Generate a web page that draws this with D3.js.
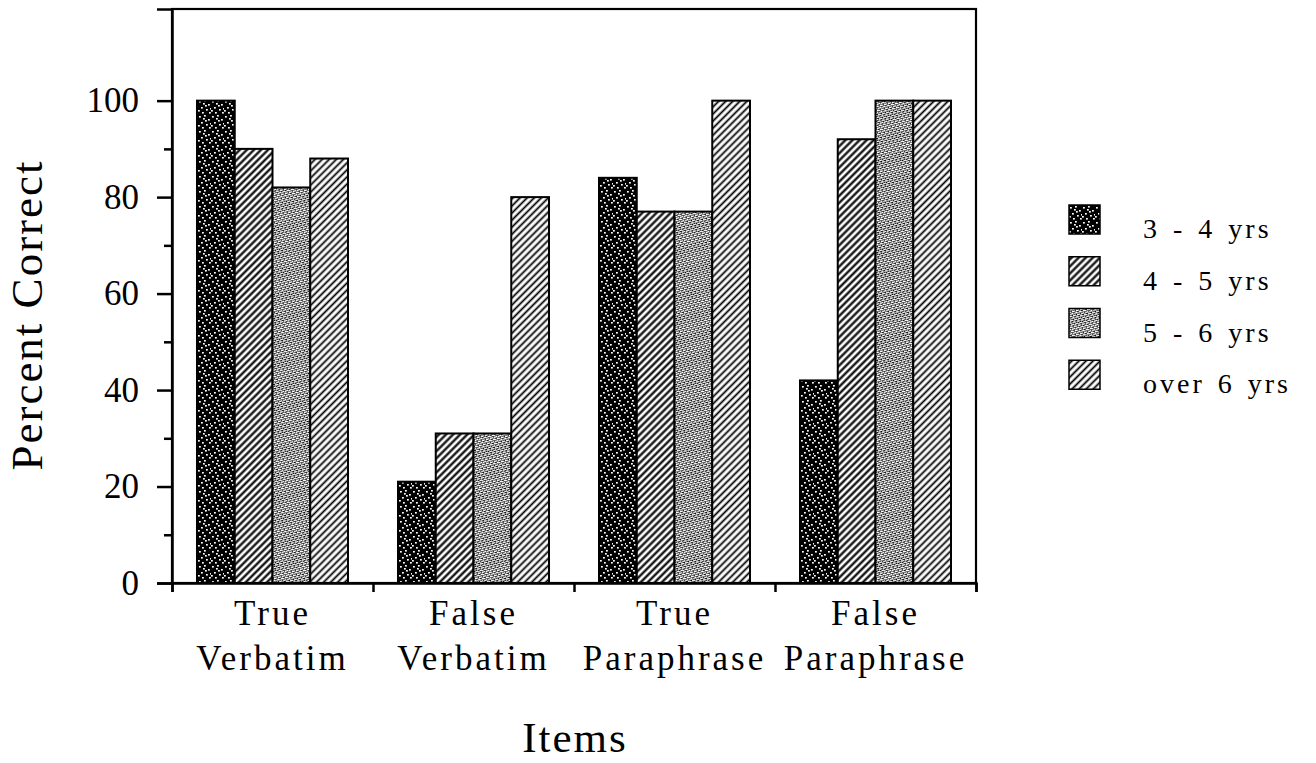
<!DOCTYPE html>
<html>
<head>
<meta charset="utf-8">
<script src="https://cdn.jsdelivr.net/npm/d3@7/dist/d3.min.js"></script>
<style>
  body { margin: 0; background: #fff; }
  svg { display: block; font-family: "Liberation Serif", "DejaVu Serif", serif; }
</style>
</head>
<body>
<svg width="1316" height="763"></svg>
<script>
var items = [["True", "Verbatim"], ["False", "Verbatim"], ["True", "Paraphrase"], ["False", "Paraphrase"]];
var ages = ["3 - 4 yrs", "4 - 5 yrs", "5 - 6 yrs", "over 6 yrs"];
var age34 = [100, 21, 84, 42];
var age45 = [90, 31, 77, 92];
var age56 = [82, 31, 77, 100];
var over6 = [88, 80, 100, 100];
var majorTicks = [0, 20, 40, 60, 80, 100];
var minorTicks = [10, 30, 50, 70, 90];

var series = [age34, age45, age56, over6];
var fills = ["url(#speckle)", "url(#hatch)", "url(#stipple)", "url(#hatch2)"];

var margin = { top: 9, left: 172 };
var width = 976 - 172;
var height = 583 - 9;

var svg = d3.select("svg");

// fill textures
var defs = svg.append("defs");
var sp = defs.append("pattern").attr("id", "speckle").attr("patternUnits", "userSpaceOnUse")
    .attr("width", 13).attr("height", 15);
sp.append("rect").attr("width", 13).attr("height", 15).attr("fill", "#000");
[[1, 2], [6, 1], [10, 5], [3, 8], [8, 10], [11, 13], [4, 13], [7, 6], [0, 11], [5, 4], [12, 9]].forEach(function (p) {
    sp.append("rect").attr("x", p[0]).attr("y", p[1]).attr("width", 1.8).attr("height", 1.6).attr("fill", "#fff");
});

function hatch(id, gap, w) {
    var h = defs.append("pattern").attr("id", id).attr("patternUnits", "userSpaceOnUse")
        .attr("width", gap).attr("height", gap).attr("patternTransform", "rotate(45)");
    h.append("rect").attr("width", gap).attr("height", gap).attr("fill", "#fff");
    h.append("line").attr("x1", gap / 2).attr("x2", gap / 2).attr("y1", 0).attr("y2", gap)
        .attr("stroke", "#000").attr("stroke-width", w);
}
hatch("hatch", 5, 2.2);
hatch("hatch2", 5, 1.8);

var st = defs.append("pattern").attr("id", "stipple").attr("patternUnits", "userSpaceOnUse")
    .attr("width", 3).attr("height", 3).attr("patternTransform", "rotate(30)");
st.append("rect").attr("width", 3).attr("height", 3).attr("fill", "#fff");
[[0, 0], [2, 1], [1, 2], [0, 1]].forEach(function (p) {
    st.append("rect").attr("x", p[0]).attr("y", p[1]).attr("width", 1).attr("height", 1).attr("fill", "#111");
});

var g = svg.append("g").attr("transform", "translate(" + margin.left + "," + margin.top + ")");

var y = d3.scaleLinear().domain([0, 119]).range([height, 0]);
var x0 = d3.scaleBand().domain(d3.range(items.length)).range([0, width]);
var x1 = d3.scaleBand().domain(d3.range(ages.length)).range([25, 176]);
var edges = d3.scaleLinear().domain([0, items.length]).range([0, width]);

// bars
var groups = g.selectAll(".grp").data(d3.range(items.length)).enter().append("g")
    .attr("class", "grp")
    .attr("transform", function (i) { return "translate(" + x0(i) + ",0)"; });
groups.selectAll("rect")
    .data(function (i) { return series.map(function (s, k) { return { k: k, v: s[i] }; }); })
    .enter().append("rect")
    .attr("x", function (d) { return x1(d.k); })
    .attr("y", function (d) { return y(d.v); })
    .attr("width", x1.bandwidth())
    .attr("height", function (d) { return height - y(d.v); })
    .attr("fill", function (d) { return fills[d.k]; })
    .attr("stroke", "#000")
    .attr("stroke-width", 2);

// frame
g.append("rect").attr("width", width).attr("height", height)
    .attr("fill", "none").attr("stroke", "#000").attr("stroke-width", 2.2);

// y axis
var yAxis = g.append("g").attr("class", "axis axis--y")
    .call(d3.axisLeft(y).tickValues(majorTicks).tickSize(15).tickPadding(18));
yAxis.select(".domain").attr("stroke-width", 2.5);
yAxis.selectAll(".tick line").attr("stroke-width", 2.5);
yAxis.selectAll("text").attr("font-size", 35).attr("font-family", "Liberation Serif").attr("fill", "#000");
g.append("g").call(d3.axisLeft(y).tickValues(minorTicks).tickSize(8).tickFormat(""))
    .call(function (a) { a.select(".domain").remove(); a.selectAll("line").attr("stroke-width", 2.5); });

// x axis
var xAxis = g.append("g").attr("class", "axis axis--x")
    .attr("transform", "translate(0," + height + ")")
    .call(d3.axisBottom(edges).tickValues(d3.range(items.length + 1)).tickSize(9).tickFormat(""));
xAxis.select(".domain").attr("stroke-width", 2.5);
xAxis.selectAll(".tick line").attr("stroke-width", 2.5);

var labels = g.selectAll(".cat").data(items).enter().append("text")
    .attr("class", "cat")
    .attr("text-anchor", "middle")
    .attr("font-size", 35)
    .attr("letter-spacing", 3)
    .attr("transform", function (d, i) { return "translate(" + (x0(i) + x0.bandwidth() / 2) + "," + (height + 42) + ")"; });
labels.append("tspan").attr("x", 0).attr("y", 0).text(function (d) { return d[0]; });
labels.append("tspan").attr("x", 0).attr("y", 45).text(function (d) { return d[1]; });

// axis titles
svg.append("text")
    .attr("transform", "translate(42,315) rotate(-90)")
    .attr("text-anchor", "middle")
    .attr("font-size", 45)
    .attr("letter-spacing", 2)
    .text("Percent Correct");
svg.append("text")
    .attr("x", 575).attr("y", 752)
    .attr("text-anchor", "middle")
    .attr("font-size", 43)
    .attr("letter-spacing", 2)
    .text("Items");

// legend
var ly = d3.scaleBand().domain(d3.range(ages.length)).range([205, 412]);
var legend = svg.selectAll(".legend").data(ages).enter().append("g")
    .attr("class", "legend")
    .attr("transform", function (d, i) { return "translate(1069," + ly(i) + ")"; });
legend.append("rect")
    .attr("width", 31).attr("height", 29)
    .attr("fill", function (d, i) { return fills[i]; })
    .attr("stroke", "#000").attr("stroke-width", 1.5);
legend.append("text")
    .attr("x", 74).attr("y", 33)
    .attr("font-size", 28)
    .attr("letter-spacing", 3)
    .attr("word-spacing", 3)
    .text(function (d) { return d; });
</script>
</body>
</html>
